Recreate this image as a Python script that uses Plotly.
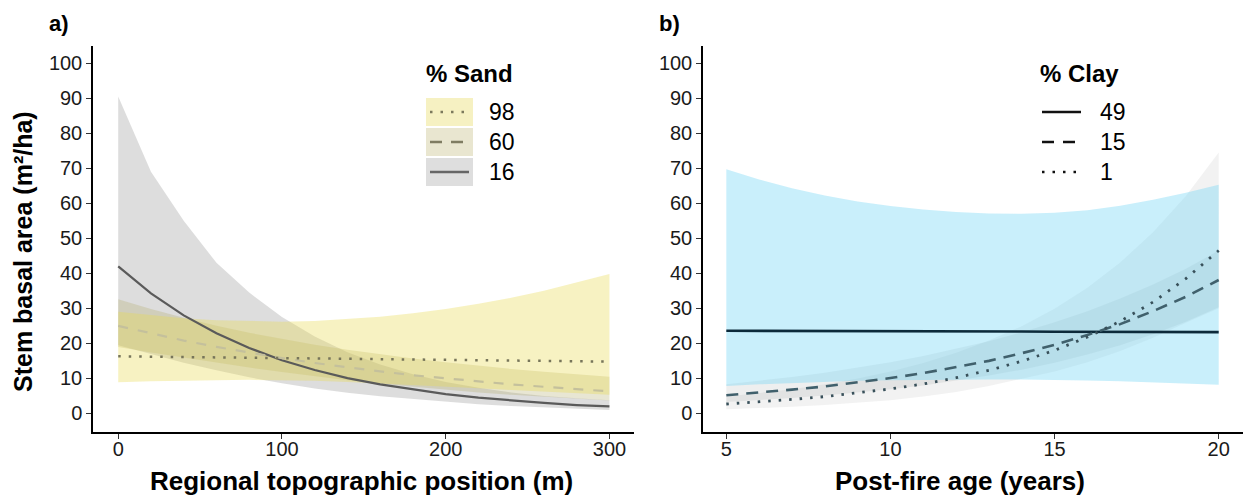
import plotly.graph_objects as go

W, H = 1243, 498

# ---------------- Panel a data ----------------
TOPO = [0, 20, 40, 60, 80, 100, 120, 140, 160, 180, 200, 220, 240, 260, 280, 300]
SAND16_FIT = [42.0, 34.3, 28.0, 22.9, 18.7, 15.2, 12.4, 10.1, 8.3, 6.8, 5.5, 4.5, 3.7, 3.0, 2.4, 2.0]
SAND16_HI = [90.5, 69.0, 55.0, 43.0, 34.5, 27.5, 22.0, 17.5, 14.0, 11.2, 9.0, 7.3, 6.0, 5.0, 4.3, 3.8]
SAND16_LO = [19.5, 17.0, 14.5, 12.3, 10.3, 8.6, 7.1, 5.9, 4.9, 4.0, 3.3, 2.6, 2.1, 1.7, 1.3, 1.0]
SAND60_FIT = [25.0, 22.8, 20.8, 19.0, 17.3, 15.8, 14.4, 13.1, 12.0, 10.9, 10.0, 9.1, 8.3, 7.6, 6.9, 6.3]
SAND60_HI = [32.6, 29.8, 27.3, 25.0, 23.0, 21.2, 19.6, 18.2, 16.9, 15.7, 14.6, 13.6, 12.7, 11.9, 11.2, 10.5]
SAND60_LO = [19.0, 17.4, 15.9, 14.5, 13.1, 11.8, 10.6, 9.5, 8.5, 7.6, 6.8, 6.0, 5.3, 4.7, 4.2, 3.7]
SAND98_FIT = [16.3, 16.2, 16.1, 16.0, 15.9, 15.8, 15.7, 15.6, 15.5, 15.4, 15.3, 15.2, 15.1, 15.0, 14.9, 14.8]
SAND98_HI = [29.0, 28.0, 27.2, 26.6, 26.3, 26.2, 26.4, 26.9, 27.6, 28.6, 29.8, 31.3, 33.0, 35.0, 37.3, 39.8]
SAND98_LO = [8.9, 9.2, 9.4, 9.5, 9.6, 9.5, 9.3, 9.0, 8.6, 8.2, 7.7, 7.2, 6.7, 6.2, 5.7, 5.3]

# ---------------- Panel b data ----------------
AGE = [5, 6, 7, 8, 9, 10, 11, 12, 13, 14, 15, 16, 17, 18, 19, 20]
CLAY49_FIT = [23.6, 23.6, 23.5, 23.5, 23.5, 23.5, 23.4, 23.4, 23.4, 23.4, 23.3, 23.3, 23.3, 23.3, 23.2, 23.2]
CLAY49_HI = [69.7, 66.8, 64.3, 62.2, 60.5, 59.2, 58.2, 57.5, 57.1, 57.0, 57.3, 58.0, 59.3, 61.0, 63.0, 65.3]
CLAY49_LO = [7.8, 8.3, 8.7, 9.0, 9.3, 9.5, 9.6, 9.7, 9.7, 9.7, 9.6, 9.4, 9.2, 8.9, 8.6, 8.2]
CLAY15_FIT = [5.2, 5.9, 6.8, 7.7, 8.8, 10.1, 11.5, 13.2, 15.0, 17.2, 19.6, 22.4, 25.5, 29.2, 33.3, 38.1]
CLAY15_HI = [8.3, 9.3, 10.4, 11.6, 13.0, 14.6, 16.4, 18.4, 20.6, 23.2, 26.0, 29.2, 32.8, 36.8, 41.3, 46.5]
CLAY15_LO = [3.3, 3.8, 4.4, 5.1, 5.9, 6.9, 8.0, 9.3, 10.8, 12.5, 14.5, 16.8, 19.5, 22.6, 26.2, 30.3]
CLAY1_FIT = [2.7, 3.3, 4.0, 4.8, 5.8, 7.0, 8.4, 10.2, 12.3, 14.9, 18.0, 21.8, 26.3, 31.8, 38.5, 46.5]
CLAY1_HI = [4.8, 5.8, 6.9, 8.3, 10.0, 12.0, 14.4, 17.3, 20.8, 24.9, 29.9, 35.9, 43.1, 51.7, 62.1, 74.5]
CLAY1_LO = [1.2, 1.5, 1.9, 2.4, 3.0, 3.8, 4.8, 6.1, 7.8, 9.9, 12.0, 14.6, 17.8, 21.6, 25.9, 30.0]

Y_TICKS = [0, 10, 20, 30, 40, 50, 60, 70, 80, 90, 100]
TOPO_TICKS = [0, 100, 200, 300]
AGE_TICKS = [5, 10, 15, 20]

SAND_LEVELS = ["98", "60", "16"]
CLAY_LEVELS = ["49", "15", "1"]

# ---------------- styles ----------------
FONT = "Arial, Liberation Sans, Helvetica, sans-serif"
C_Y = "rgba(232,218,80,0.35)"      # sand 98 ribbon
C_BEIGE = "rgba(180,172,110,0.30)"  # sand 60 ribbon
C_GREY = "rgba(150,150,150,0.32)"   # sand 16 ribbon
C_BLUE = "rgba(120,215,245,0.40)"   # clay 49 ribbon
C_G15 = "rgba(120,130,135,0.13)"    # clay 15 ribbon
C_G1 = "rgba(190,190,190,0.20)"     # clay 1 ribbon


def px(x):
    return x / W


def py(y):
    return 1 - y / H


fig = go.Figure()


def ribbon(x, hi, lo, color, xa, ya):
    fig.add_trace(go.Scatter(x=list(x) + list(x)[::-1], y=list(hi) + list(lo)[::-1],
                             fill="toself", fillcolor=color, line=dict(width=0),
                             mode="lines", hoverinfo="skip", showlegend=False,
                             xaxis=xa, yaxis=ya))


def curve(x, y, color, dash, width, xa, ya):
    fig.add_trace(go.Scatter(x=x, y=y, mode="lines",
                             line=dict(color=color, dash=dash, width=width),
                             showlegend=False, hoverinfo="skip", xaxis=xa, yaxis=ya))


# panel a
ribbon(TOPO, SAND16_HI, SAND16_LO, C_GREY, "x", "y")
ribbon(TOPO, SAND60_HI, SAND60_LO, C_BEIGE, "x", "y")
ribbon(TOPO, SAND98_HI, SAND98_LO, C_Y, "x", "y")
curve(TOPO, SAND16_FIT, "#5a5a5a", "solid", 2.2, "x", "y")
curve(TOPO, SAND60_FIT, "#c4c09c", "10px,10px", 2.2, "x", "y")
curve(TOPO, SAND98_FIT, "#77755a", "2.5px,8px", 2.5, "x", "y")

# panel b
ribbon(AGE, CLAY1_HI, CLAY1_LO, C_G1, "x2", "y2")
ribbon(AGE, CLAY15_HI, CLAY15_LO, C_G15, "x2", "y2")
ribbon(AGE, CLAY49_HI, CLAY49_LO, C_BLUE, "x2", "y2")
curve(AGE, CLAY49_FIT, "#0c2a3a", "solid", 2.6, "x2", "y2")
curve(AGE, CLAY15_FIT, "#40606c", "12px,8px", 2.6, "x2", "y2")
curve(AGE, CLAY1_FIT, "#38505a", "2.5px,8px", 2.8, "x2", "y2")

axis_common = dict(showline=True, linecolor="black", linewidth=1.5, ticks="outside",
                   ticklen=5, tickwidth=1.2, tickcolor="#333333", showgrid=False,
                   zeroline=False, tickfont=dict(family=FONT, size=20, color="#1a1a1a"),
                   fixedrange=True)

fig.update_layout(
    width=W, height=H, margin=dict(l=0, r=0, t=0, b=0),
    plot_bgcolor="white", paper_bgcolor="white", showlegend=False,
    xaxis=dict(domain=[px(93), px(634)], range=[-15.4, 315], tickvals=TOPO_TICKS,
               anchor="y", ticklabelstandoff=-7, **axis_common),
    yaxis=dict(domain=[py(432), py(46)], range=[-5.3, 104.9], tickvals=Y_TICKS,
               anchor="x", **axis_common),
    xaxis2=dict(domain=[px(703), 1.0], range=[4.29, 20.74], tickvals=AGE_TICKS,
                anchor="y2", ticklabelstandoff=-7, **axis_common),
    yaxis2=dict(domain=[py(432), py(46)], range=[-5.3, 104.9], tickvals=Y_TICKS,
                anchor="x2", **axis_common),
)

ann = []


def text(x, y, s, size, bold=False, xanchor="center", angle=0):
    ann.append(dict(x=px(x), y=py(y), xref="paper", yref="paper", text=f"<b>{s}</b>" if bold else s,
                    showarrow=False, xanchor=xanchor, yanchor="middle", textangle=angle,
                    font=dict(family=FONT, size=size, color="black")))


text(47, 23, "a)", 22, bold=True, xanchor="left")
text(657, 23, "b)", 22, bold=True, xanchor="left")
text(361, 481, "Regional topographic position (m)", 26, bold=True)
text(960, 481, "Post-fire age (years)", 26, bold=True)
text(23, 252, "Stem basal area (m²/ha)", 25, bold=True, angle=-90)

# legend a
text(470, 73, "% Sand", 24, bold=True)
shapes = []
rows = [112, 142, 172]
box_cols = ["rgba(246,241,194,1)", "rgba(233,230,208,1)", "rgba(222,222,222,1)"]
key_cols = ["#7c7a5c", "#7f7c62", "#666666"]
key_dash = ["2.5px,8px", "12px,9px", "solid"]
for r, lab, bc, kc, kd in zip(rows, SAND_LEVELS, box_cols, key_cols, key_dash):
    shapes.append(dict(type="rect", xref="paper", yref="paper", x0=px(426), x1=px(473),
                       y0=py(r + 14), y1=py(r - 14), fillcolor=bc, line=dict(width=0)))
    shapes.append(dict(type="line", xref="paper", yref="paper", x0=px(430), x1=px(469),
                       y0=py(r), y1=py(r), line=dict(color=kc, width=2.4, dash=kd)))
    text(487, r, lab, 23, xanchor="left")

# legend b
text(1079, 73, "% Clay", 24, bold=True)
bcols = ["#111111", "#111111", "#111111"]
bdash = ["solid", "12px,9px", "2.5px,8px"]
for r, lab, kc, kd in zip(rows, CLAY_LEVELS, bcols, bdash):
    shapes.append(dict(type="line", xref="paper", yref="paper", x0=px(1042), x1=px(1081),
                       y0=py(r), y1=py(r), line=dict(color=kc, width=2.6, dash=kd)))
    text(1098, r, lab, 23, xanchor="left")

fig.update_layout(annotations=ann, shapes=shapes)
fig.write_html("out.html")
